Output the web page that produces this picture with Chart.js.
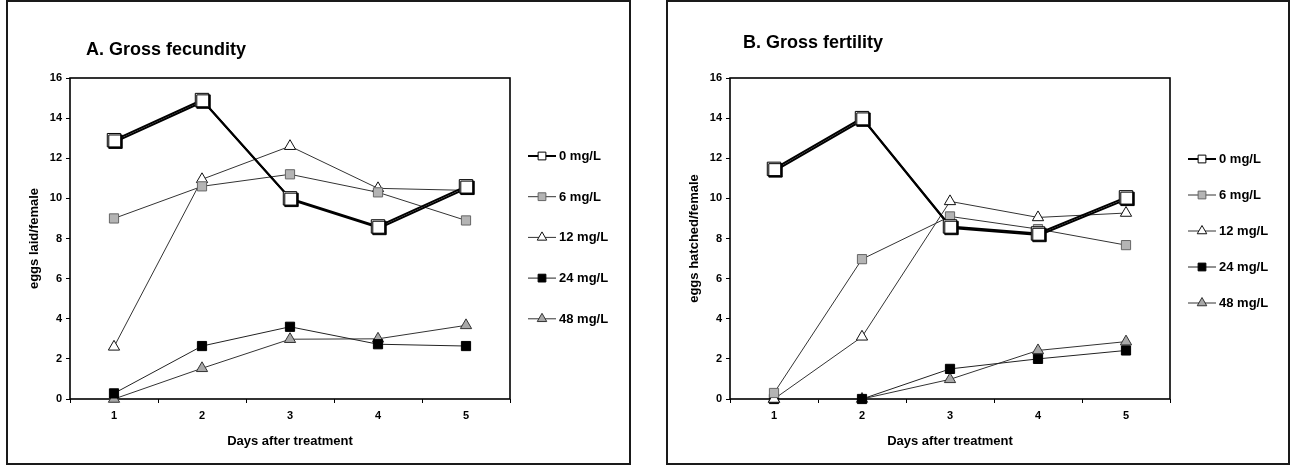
<!DOCTYPE html>
<html>
<head>
<meta charset="utf-8">
<title>Gross fecundity and fertility</title>
<style>
  body { margin: 0; background: #fff; }
  .panel { position: absolute; top: 0; height: 465px; border: 2px solid #1a1a1a; box-sizing: border-box; background: #fff; }
  #panelA { left: 6px; width: 625px; }
  #panelB { left: 666px; width: 624px; }
  canvas { display: block; }
</style>
</head>
<body>
<div class="panel" id="panelA"><canvas id="chartA" width="621" height="461"></canvas></div>
<div class="panel" id="panelB"><canvas id="chartB" width="620" height="461"></canvas></div>

<script src="https://cdn.jsdelivr.net/npm/chart.js"></script>
<script>
// values
var days = ['1', '2', '3', '4', '5'];
var doses = ['0 mg/L', '6 mg/L', '12 mg/L', '24 mg/L', '48 mg/L'];
var yTicks = [0, 2, 4, 6, 8, 10, 12, 14, 16];

// A. eggs laid per female
var laid0 = [12.9, 14.9, 10.0, 8.6, 10.6];
var laid6 = [9.0, 10.6, 11.2, 10.3, 8.9];
var laid12 = [2.6, 10.95, 12.6, 10.5, 10.4];
var laid24 = [0.28, 2.64, 3.6, 2.73, 2.64];
var laid48 = [0, 1.53, 2.98, 3.0, 3.67];

// B. eggs hatched per female
var hatched0 = [11.47, 14.0, 8.6, 8.25, 10.05];
var hatched6 = [0.3, 6.97, 9.1, 8.47, 7.67];
var hatched12 = [0, 3.1, 9.85, 9.05, 9.27];
var hatched24 = [0, 0, 1.5, 2.0, 2.42];
var hatched48 = [0, 0, 0.98, 2.42, 2.86];

var FONT = '"Liberation Sans", Arial, sans-serif';

// marker / line look per dose
var styles = [
  { shape: 'rect', radius: 9.5, fill: '#fff', edge: '#000', line: '#000', width: 2, legendRadius: 5.5 },
  { shape: 'rect', radius: 6.5, fill: '#b4b4b4', edge: '#666', line: '#333', width: 1, legendRadius: 5.5 },
  { shape: 'triangle', radius: 6.5, fill: '#fff', edge: '#111', line: '#333', width: 1, legendRadius: 5.5 },
  { shape: 'rect', radius: 6.5, fill: '#000', edge: '#000', line: '#222', width: 1, legendRadius: 5.5 },
  { shape: 'triangle', radius: 6.5, fill: '#a8a8a8', edge: '#333', line: '#333', width: 1, legendRadius: 5.5 }
];

// frame round the plot, shadow on the 0 mg/L series, title and the line+marker legend
var panelPlugin = {
  id: 'panel',
  beforeDatasetsDraw: function (chart) {
    var a = chart.chartArea, ctx = chart.ctx;
    ctx.save();
    ctx.strokeStyle = '#000';
    ctx.lineWidth = 1.6;
    ctx.strokeRect(a.left, a.top, a.right - a.left, a.bottom - a.top);
    ctx.restore();
  },
  beforeDatasetDraw: function (chart, args) {
    if (args.index !== 0) return;
    var ctx = chart.ctx;
    ctx.save();
    ctx.shadowColor = '#000';
    ctx.shadowOffsetX = 1.5;
    ctx.shadowOffsetY = 1.5;
    ctx.shadowBlur = 0;
  },
  afterDatasetDraw: function (chart, args) {
    if (args.index === 0) chart.ctx.restore();
  },
  afterDraw: function (chart, args, opts) {
    var ctx = chart.ctx;
    ctx.save();
    ctx.fillStyle = '#000';
    ctx.textBaseline = 'middle';
    ctx.textAlign = 'left';
    ctx.font = 'bold 18px ' + FONT;
    ctx.fillText(opts.title, opts.titleX, opts.titleY);

    ctx.font = 'bold 13px ' + FONT;
    chart.data.datasets.forEach(function (ds, i) {
      var s = styles[i];
      var y = opts.legendTop + i * opts.legendGap;
      ctx.strokeStyle = s.line;
      ctx.lineWidth = s.width;
      ctx.beginPath();
      ctx.moveTo(opts.legendX, y);
      ctx.lineTo(opts.legendX + 28, y);
      ctx.stroke();
      ctx.fillStyle = s.fill;
      ctx.strokeStyle = s.edge;
      ctx.lineWidth = 1;
      Chart.helpers.drawPoint(ctx, { pointStyle: s.shape, radius: s.legendRadius, rotation: 0, borderWidth: 1 }, opts.legendX + 14, y);
      ctx.fillStyle = '#000';
      ctx.fillText(ds.label, opts.legendX + 31, y + 0.5);
    });
    ctx.restore();
  }
};

function buildChart(id, series, o) {
  var datasets = series.map(function (values, i) {
    var s = styles[i];
    return {
      label: doses[i],
      data: values,
      borderColor: s.line,
      borderWidth: s.width,
      pointStyle: s.shape,
      pointRadius: s.radius,
      pointHoverRadius: s.radius,
      pointBackgroundColor: s.fill,
      pointBorderColor: s.edge,
      pointBorderWidth: 1,
      tension: 0,
      clip: false
    };
  });

  return new Chart(document.getElementById(id), {
    type: 'line',
    data: { labels: days, datasets: datasets },
    options: {
      responsive: false,
      devicePixelRatio: 1,
      animation: false,
      events: [],
      layout: { padding: { left: 10, top: 76, right: o.padRight, bottom: 8 } },
      plugins: {
        legend: { display: false },
        tooltip: { enabled: false },
        panel: {
          title: o.title, titleX: o.titleX, titleY: o.titleY,
          legendX: 520, legendTop: o.legendTop, legendGap: o.legendGap
        }
      },
      scales: {
        x: {
          offset: true,
          grid: { display: true, offset: true, drawOnChartArea: false, drawTicks: true, tickLength: 4, color: '#000', lineWidth: 1 },
          border: { display: false },
          ticks: { color: '#000', padding: 6, font: { family: FONT, size: 11, weight: 'bold' } },
          title: {
            display: true, text: 'Days after treatment', color: '#000',
            font: { family: FONT, size: 13, weight: 'bold' }, padding: { top: 0, bottom: 6 }
          },
          afterFit: function (s) { s.height = 56; }
        },
        y: {
          min: 0,
          max: 16,
          afterBuildTicks: function (s) {
            s.ticks = yTicks.map(function (v) { return { value: v }; });
          },
          grid: { display: true, drawOnChartArea: false, drawTicks: true, tickLength: 4, color: '#000', lineWidth: 1 },
          border: { display: false },
          ticks: { color: '#000', padding: 4, font: { family: FONT, size: 11, weight: 'bold' } },
          title: {
            display: true, text: o.yTitle, color: '#000',
            font: { family: FONT, size: 13, weight: 'bold' }, padding: { top: 9, bottom: 0 }
          },
          afterFit: function (s) { s.width = 52; }
        }
      }
    },
    plugins: [panelPlugin]
  });
}

buildChart('chartA', [laid0, laid6, laid12, laid24, laid48], {
  title: 'A. Gross fecundity', titleX: 78, titleY: 48,
  yTitle: 'eggs laid/female', padRight: 119,
  legendTop: 154, legendGap: 40.7
});

buildChart('chartB', [hatched0, hatched6, hatched12, hatched24, hatched48], {
  title: 'B. Gross fertility', titleX: 75, titleY: 41.5,
  yTitle: 'eggs hatched/female', padRight: 118,
  legendTop: 157, legendGap: 36
});
</script>
</body>
</html>
